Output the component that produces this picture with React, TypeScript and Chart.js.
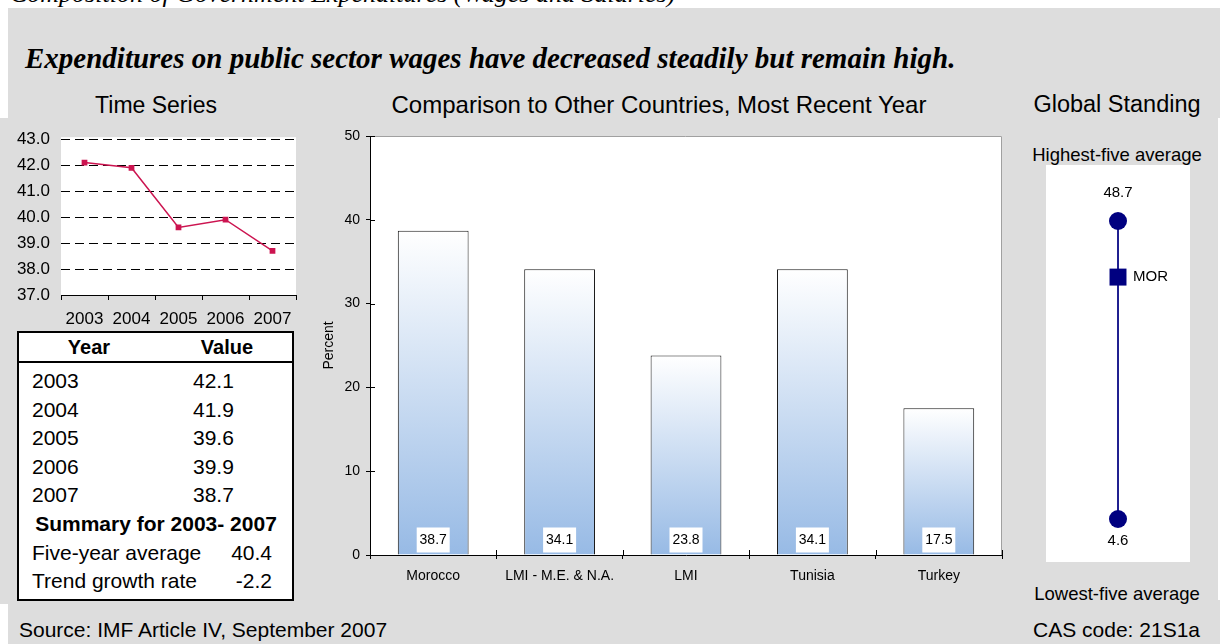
import React, { useEffect, useRef } from "react";
import { Chart, registerables } from "chart.js";

Chart.register(...registerables);

// ---------- data ----------
const pageTitle = "Composition of Government Expenditures (Wages and Salaries)";
const headline = "Expenditures on public sector wages have decreased steadily but remain high.";
const years = ["2003", "2004", "2005", "2006", "2007"];
const wageValues = [42.1, 41.9, 39.6, 39.9, 38.7];
const tsMin = 37;
const tsMax = 43;
const summaryTitle = "Summary for 2003- 2007";
const summaryLabels = ["Five-year average", "Trend growth rate"];
const summaryValues = ["40.4", "-2.2"];
const countries = ["Morocco", "LMI - M.E. & N.A.", "LMI", "Tunisia", "Turkey"];
const countryValues = [38.7, 34.1, 23.8, 34.1, 17.5];
const rangeLabels = ["Highest-five average", "Lowest-five average"];
const rangeValues = [48.7, 4.6];
const morValues = [40.4];
const morLabel = "MOR";
const sourceText = "Source: IMF Article IV, September 2007";
const casText = "CAS code: 21S1a";

// ---------- styles ----------
const SANS = '"Liberation Sans", Arial, Helvetica, sans-serif';
const SERIF = '"Liberation Serif", "Times New Roman", serif';
const GREY = "#DDDDDD";
const RED = "#CC1450";
const NAVY = "#000080";
const BAR_BLUE = "#97BAE5";

Chart.defaults.font.family = SANS;
Chart.defaults.color = "#000";

const plotBg = {
  id: "plotBg",
  beforeDraw(chart: any, _args: any, opts: any) {
    const { ctx, chartArea: a } = chart;
    if (!a) return;
    ctx.save();
    ctx.fillStyle = opts.color || "#fff";
    ctx.fillRect(a.left, a.top - (opts.extendTop || 0), a.right - a.left, a.bottom - a.top + (opts.extendTop || 0));
    if (opts.border) {
      ctx.strokeStyle = opts.border;
      ctx.lineWidth = 1;
      ctx.beginPath();
      ctx.moveTo(a.left, Math.round(a.top) + 0.5);
      ctx.lineTo(Math.round(a.right) - 0.5, Math.round(a.top) + 0.5);
      ctx.lineTo(Math.round(a.right) - 0.5, a.bottom);
      ctx.stroke();
    }
    ctx.restore();
  },
};

function TimeSeriesChart() {
  const ref = useRef<HTMLCanvasElement>(null);
  useEffect(() => {
    const chart = new Chart(ref.current!, {
      type: "line",
      data: {
        labels: years,
        datasets: [
          {
            data: wageValues,
            borderColor: RED,
            backgroundColor: RED,
            borderWidth: 1.5,
            pointStyle: "rect",
            pointRadius: 3,
            pointBackgroundColor: RED,
            pointBorderColor: RED,
            tension: 0,
            clip: false as any,
          },
        ],
      },
      options: {
        animation: false,
        responsive: false,
        events: [],
        layout: { padding: { top: 17, right: 14, left: 0, bottom: 0 } },
        plugins: {
          legend: { display: false },
          tooltip: { enabled: false },
          plotBg: { color: "#fff", extendTop: 2 },
        } as any,
        scales: {
          x: {
            offset: true,
            grid: { offset: true, drawOnChartArea: false, drawTicks: true, tickLength: 5, color: "#000", lineWidth: 1 },
            border: { display: true, color: "#000", width: 1 },
            ticks: { font: { size: 17 }, color: "#000", padding: 9, maxRotation: 0, autoSkip: false },
            afterFit: (s: any) => {
              s.height = 35;
            },
          },
          y: {
            min: tsMin,
            max: tsMax,
            ticks: {
              stepSize: 1,
              callback: (v: any) => Number(v).toFixed(1),
              font: { size: 17 },
              color: "#000",
              padding: 11,
            },
            grid: {
              color: (c: any) => (c.tick && c.tick.value === tsMin ? "rgba(0,0,0,0)" : "#000"),
              drawTicks: false,
              lineWidth: 1,
            },
            border: { display: false, dash: [9, 5] },
            afterFit: (s: any) => {
              s.width = 61;
            },
          },
        },
      } as any,
      plugins: [plotBg],
    });
    return () => chart.destroy();
  }, []);
  return (
    <canvas
      ref={ref}
      width={310}
      height={212}
      style={{ position: "absolute", left: 0, top: 118, width: 310, height: 212 }}
    />
  );
}

const crossTicks = {
  id: "crossTicks",
  afterDraw(chart: any) {
    const { ctx, chartArea: a, scales } = chart;
    const x = scales.x;
    const y = scales.y;
    ctx.save();
    ctx.strokeStyle = "#000";
    ctx.lineWidth = 1;
    ctx.beginPath();
    y.ticks.forEach((_t: any, i: number) => {
      const py = Math.round(y.getPixelForTick(i)) + 0.5;
      ctx.moveTo(a.left, py);
      ctx.lineTo(a.left + 5, py);
    });
    for (let i = 0; i <= x.ticks.length; i++) {
      const px = Math.round(x.getPixelForValue(i - 0.5)) + 0.5;
      ctx.moveTo(px, a.bottom);
      ctx.lineTo(px, a.bottom - 5);
    }
    ctx.stroke();
    ctx.restore();
  },
};

const barValueLabels = {
  id: "barValueLabels",
  afterDatasetsDraw(chart: any) {
    const { ctx } = chart;
    const meta = chart.getDatasetMeta(0);
    ctx.save();
    ctx.font = `14px ${SANS}`;
    ctx.textAlign = "center";
    ctx.textBaseline = "middle";
    meta.data.forEach((el: any, i: number) => {
      const { x, base } = el.getProps(["x", "base"], true);
      ctx.fillStyle = "#fff";
      ctx.fillRect(x - 16.5, base - 27, 33, 25);
      ctx.fillStyle = "#000";
      ctx.fillText(countryValues[i].toFixed(1), x, base - 14);
    });
    ctx.restore();
  },
};

function ComparisonChart() {
  const ref = useRef<HTMLCanvasElement>(null);
  useEffect(() => {
    const chart = new Chart(ref.current!, {
      type: "bar",
      data: {
        labels: countries,
        datasets: [
          {
            data: countryValues,
            backgroundColor: (c: any) => {
              const ch = c.chart;
              if (!ch.chartArea || c.type !== "data") return BAR_BLUE;
              const ys = ch.scales.y;
              const top = ys.getPixelForValue(c.raw);
              const base = ys.getPixelForValue(0);
              const g = ch.ctx.createLinearGradient(0, base, 0, top);
              g.addColorStop(0, BAR_BLUE);
              g.addColorStop(1, "#FFFFFF");
              return g;
            },
            borderColor: "#1a1a1a",
            borderWidth: 1,
            categoryPercentage: 1,
            barPercentage: 0.56,
          },
        ],
      },
      options: {
        animation: false,
        responsive: false,
        events: [],
        layout: { padding: { top: 16, right: 13, left: 0, bottom: 0 } },
        plugins: {
          legend: { display: false },
          tooltip: { enabled: false },
          plotBg: { color: "#fff", border: "#A0A0A0" },
        } as any,
        scales: {
          x: {
            grid: { offset: true, drawOnChartArea: false, tickLength: 4, color: "#000" },
            border: { color: "#000" },
            ticks: { font: { size: 14 }, color: "#000", padding: 9, maxRotation: 0, autoSkip: false },
            afterFit: (s: any) => {
              s.height = 55;
            },
          },
          y: {
            min: 0,
            max: 50,
            ticks: { stepSize: 10, font: { size: 14 }, color: "#000", padding: 6 },
            grid: { drawOnChartArea: false, tickLength: 4, color: "#000" },
            border: { color: "#000" },
            title: {
              display: true,
              text: "Percent",
              font: { size: 14 },
              color: "#000",
              padding: { top: 11, bottom: 0 },
            },
            afterFit: (s: any) => {
              s.width = 60;
            },
          },
        },
      } as any,
      plugins: [plotBg, crossTicks, barValueLabels],
    });
    return () => chart.destroy();
  }, []);
  return (
    <canvas
      ref={ref}
      width={705}
      height={490}
      style={{ position: "absolute", left: 310, top: 120, width: 705, height: 490 }}
    />
  );
}

const standingLabels = {
  id: "standingLabels",
  afterDatasetsDraw(chart: any) {
    const { ctx } = chart;
    const range = chart.getDatasetMeta(0).data;
    const mor = chart.getDatasetMeta(1).data;
    ctx.save();
    ctx.font = `15px ${SANS}`;
    ctx.fillStyle = "#000";
    ctx.textBaseline = "middle";
    ctx.textAlign = "center";
    if (range[0]) ctx.fillText(rangeValues[0].toFixed(1), range[0].x, range[0].y - 28);
    if (range[1]) ctx.fillText(rangeValues[1].toFixed(1), range[1].x, range[1].y + 22);
    ctx.textAlign = "left";
    if (mor[0]) ctx.fillText(morLabel, mor[0].x + 15, mor[0].y);
    ctx.restore();
  },
};

function StandingChart() {
  const ref = useRef<HTMLCanvasElement>(null);
  useEffect(() => {
    const chart = new Chart(ref.current!, {
      type: "scatter",
      data: {
        datasets: [
          {
            data: rangeValues.map((v) => ({ x: 0, y: v })),
            showLine: true,
            borderColor: NAVY,
            borderWidth: 1,
            pointRadius: 9,
            pointStyle: "circle",
            pointBackgroundColor: NAVY,
            pointBorderColor: NAVY,
            pointBorderWidth: 0,
            clip: false as any,
            order: 1,
          },
          {
            data: morValues.map((v) => ({ x: 0, y: v })),
            pointRadius: 12,
            pointStyle: "rect",
            pointBackgroundColor: NAVY,
            pointBorderColor: NAVY,
            pointBorderWidth: 0,
            clip: false as any,
            order: 0,
          },
        ],
      },
      options: {
        animation: false,
        responsive: false,
        events: [],
        layout: { padding: { top: 56, bottom: 43, left: 0, right: 8 } },
        plugins: { legend: { display: false }, tooltip: { enabled: false } },
        scales: {
          x: { display: false, min: -1, max: 1 },
          y: { display: false, min: Math.min(...rangeValues), max: Math.max(...rangeValues) },
        },
      } as any,
      plugins: [standingLabels],
    });
    return () => chart.destroy();
  }, []);
  return (
    <canvas
      ref={ref}
      width={144}
      height={397}
      style={{ position: "absolute", left: 1046, top: 165, width: 144, height: 397, background: "#fff" }}
    />
  );
}

type TP = {
  x: number;
  y: number;
  text: string;
  size: number;
  bold?: boolean;
  italic?: boolean;
  serif?: boolean;
  align?: "left" | "center" | "right";
};
function T({ x, y, text, size, bold, italic, serif, align = "left" }: TP) {
  const tx = align === "center" ? "-50%" : align === "right" ? "-100%" : "0";
  return (
    <div
      style={{
        position: "absolute",
        left: x,
        top: y,
        transform: `translate(${tx}, -50%)`,
        fontSize: size,
        lineHeight: 1,
        whiteSpace: "nowrap",
        fontFamily: serif ? SERIF : SANS,
        fontWeight: bold ? 700 : 400,
        fontStyle: italic ? "italic" : "normal",
        color: "#000",
      }}
    >
      {text}
    </div>
  );
}

function DataTable() {
  const rowY = (i: number) => 380 + i * 28.6;
  return (
    <>
      <div
        style={{
          position: "absolute",
          left: 17,
          top: 331,
          width: 277,
          height: 270,
          boxSizing: "border-box",
          border: "2px solid #000",
          background: "#fff",
        }}
      />
      <div style={{ position: "absolute", left: 17, top: 361, width: 277, height: 2, background: "#000" }} />
      <T x={89} y={347} text="Year" size={20} bold align="center" />
      <T x={227} y={347} text="Value" size={20} bold align="center" />
      {years.map((yr, i) => (
        <React.Fragment key={yr}>
          <T x={32} y={rowY(i)} text={yr} size={21} />
          <T x={193} y={rowY(i)} text={wageValues[i].toFixed(1)} size={21} />
        </React.Fragment>
      ))}
      <T x={156} y={rowY(5)} text={summaryTitle} size={21} bold align="center" />
      {summaryLabels.map((lab, i) => (
        <React.Fragment key={lab}>
          <T x={32} y={rowY(6 + i)} text={lab} size={21} />
          <T x={272} y={rowY(6 + i)} text={summaryValues[i]} size={21} align="right" />
        </React.Fragment>
      ))}
    </>
  );
}

export default function App() {
  return (
    <div
      style={{
        position: "absolute",
        left: 0,
        top: 0,
        width: 1220,
        height: 644,
        overflow: "hidden",
        background: "#fff",
        fontFamily: SANS,
      }}
    >
      <div style={{ position: "absolute", left: 8, top: 8, width: 1212, height: 636, background: GREY }} />
      <div style={{ position: "absolute", left: 0, top: 118, width: 8, height: 486, background: GREY }} />
      <div style={{ position: "absolute", left: 1218, top: 118, width: 2, height: 482, background: "#fff" }} />

      <div
        style={{
          position: "absolute",
          left: 10,
          top: -19.5,
          fontSize: 26,
          lineHeight: 1,
          fontFamily: SERIF,
          fontStyle: "italic",
          whiteSpace: "nowrap",
          color: "#000",
        }}
      >
        {pageTitle}
      </div>

      <T x={25} y={58} text={headline} size={29} bold italic serif />

      <T x={156} y={105} text="Time Series" size={23} align="center" />
      <T x={659} y={105} text="Comparison to Other Countries, Most Recent Year" size={24} align="center" />
      <T x={1117} y={105} text="Global Standing" size={23.5} align="center" />
      <T x={1117} y={155} text={rangeLabels[0]} size={18.5} align="center" />
      <T x={1117} y={594} text={rangeLabels[1]} size={18.5} align="center" />

      <TimeSeriesChart />
      <DataTable />
      <ComparisonChart />
      <StandingChart />

      <T x={19} y={629} text={sourceText} size={21} />
      <T x={1200} y={629} text={casText} size={21} align="right" />
    </div>
  );
}
